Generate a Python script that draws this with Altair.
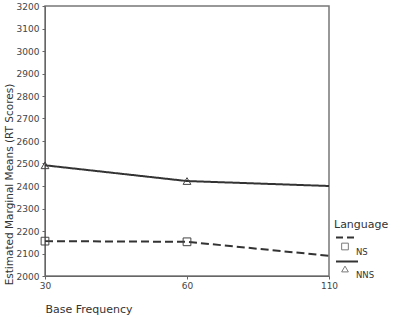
import altair as alt
import pandas as pd

frequency = ["30", "60", "110"]
ns_means = [2155, 2152, 2090]
nns_means = [2492, 2422, 2400]
languages = ["NS", "NNS"]
y_ticks = list(range(2000, 3201, 100))

rows = []
for f, v in zip(frequency, ns_means):
    rows.append({"freq": f, "mean": v, "Language": "NS"})
for f, v in zip(frequency, nns_means):
    rows.append({"freq": f, "mean": v, "Language": "NNS"})
df = pd.DataFrame(rows)

FONT = "DejaVu Sans"
INK = "#333333"

x_enc = alt.X("freq:O", sort=frequency, scale=alt.Scale(padding=0),
              axis=alt.Axis(title="Base Frequency", labelAngle=0, labelFontSize=9,
                            labelColor="#444", labelFont=FONT, tickSize=3, labelPadding=2,
                            tickColor="#666", domainColor="#666",
                            titleFont=FONT, titleFontSize=11, titleFontWeight="normal",
                            titleColor="#333", titleAnchor="start", titleAlign="left",
                            titleBaseline="top", titleX=0, titleY=27))
y_enc = alt.Y("mean:Q", scale=alt.Scale(domain=[2000, 3200], nice=False, zero=False),
              axis=alt.Axis(title="Estimated Marginal Means (RT Scores)", values=y_ticks,
                            format="d", labelFlush=False,
                            labelFontSize=9, labelColor="#444", labelFont=FONT, tickSize=3,
                            labelPadding=3, tickColor="#666", domainColor="#666", grid=False,
                            titleFont=FONT, titleFontSize=10.5, titleFontWeight="normal",
                            titleColor="#333", titleAngle=-90, titleAlign="center",
                            titleBaseline="alphabetic", titleX=-33, titleY=178))

dash_scale = alt.Scale(domain=languages, range=[[8, 4], [1, 0]])
shape_scale = alt.Scale(domain=languages, range=["square", "triangle-up"])

lines = alt.Chart(df).mark_line(color=INK, strokeWidth=2).encode(
    x=x_enc, y=y_enc,
    strokeDash=alt.StrokeDash("Language:N", scale=dash_scale, legend=None),
    detail="Language:N",
)
points = alt.Chart(df).transform_filter(alt.datum.freq != "110").mark_point(
    filled=False, color="#444", size=60, strokeWidth=1, opacity=1
).encode(
    x=x_enc, y=y_enc,
    shape=alt.Shape("Language:N", scale=shape_scale, legend=None),
)

# manual legend (pixel positions relative to plot area)
leg_title = alt.Chart().mark_text(text="Language", font=FONT, fontSize=11, color="#333",
                                  align="left", baseline="middle").encode(
    x=alt.value(289), y=alt.value(219))
leg_dash = alt.Chart().mark_rule(color=INK, strokeWidth=2, strokeDash=[7, 4]).encode(
    x=alt.value(291), x2=alt.value(313), y=alt.value(231.5))
leg_sq = alt.Chart().mark_point(shape="square", filled=False, color="#444", size=45,
                                strokeWidth=1).encode(x=alt.value(300), y=alt.value(240.5))
leg_ns = alt.Chart().mark_text(text="NS", font=FONT, fontSize=8.5, color="#333",
                               align="left", baseline="middle").encode(
    x=alt.value(311), y=alt.value(246))
leg_solid = alt.Chart().mark_rule(color=INK, strokeWidth=2).encode(
    x=alt.value(291), x2=alt.value(313), y=alt.value(255.5))
leg_tri = alt.Chart().mark_point(shape="triangle-up", filled=False, color="#444", size=45,
                                 strokeWidth=1).encode(x=alt.value(300), y=alt.value(263))
leg_nns = alt.Chart().mark_text(text="NNS", font=FONT, fontSize=8.5, color="#333",
                                align="left", baseline="middle").encode(
    x=alt.value(311), y=alt.value(269))

chart = alt.layer(lines, points, leg_title, leg_dash, leg_sq, leg_ns,
                  leg_solid, leg_tri, leg_nns).properties(
    width=284, height=270,
    autosize=alt.AutoSizeParams(type="none"),
    padding={"left": 45, "top": 6, "right": 64, "bottom": 41},
    background="white",
).configure_view(stroke="#777", strokeWidth=1.5).configure_axis(
    labelOverlap=False, labelBound=False
)

chart.save("out.html", embed_options={"renderer": "svg", "actions": False})
